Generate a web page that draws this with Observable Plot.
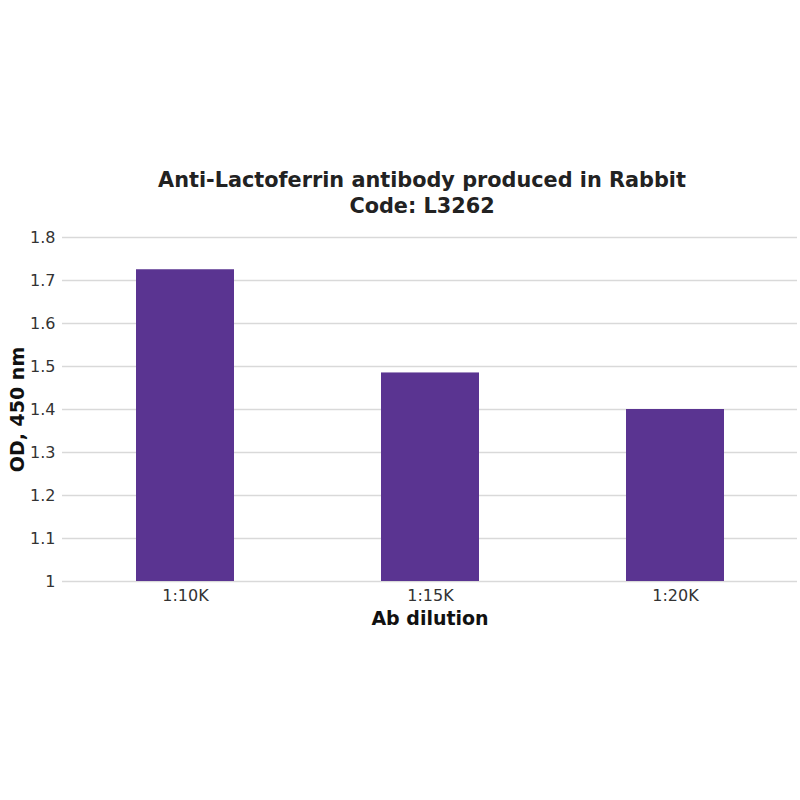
<!DOCTYPE html>
<html>
<head>
<meta charset="utf-8">
<script src="https://cdn.jsdelivr.net/npm/d3@7"></script>
<script src="https://cdn.jsdelivr.net/npm/@observablehq/plot@0.6"></script>
<style>
  body { margin: 0; background: #fff; font-family: "DejaVu Sans", Verdana, sans-serif; }
  #wrap { width: 800px; height: 800px; }
  #title { padding-top: 167px; padding-left: 44px; width: 756px; text-align: center; font-weight: bold; font-size: 20.8px; line-height: 26px; color: #222; height: 52px; }
  g[aria-label="y-axis label"] text, g[aria-label="x-axis label"] text { font-weight: bold; font-size: 19px; fill: #111; }
</style>
</head>
<body>
<div id="wrap">
  <div id="title">Anti-Lactoferrin antibody produced in Rabbit<br>Code: L3262</div>
  <div id="chart"></div>
</div>
<script>
const categories = ["1:10K", "1:15K", "1:20K"];
const values = [1.725, 1.485, 1.40];
const yTicks = [1, 1.1, 1.2, 1.3, 1.4, 1.5, 1.6, 1.7, 1.8];

const data = categories.map((c, i) => ({dilution: c, od: values[i]}));

const chart = Plot.plot({
  width: 800,
  height: 581,
  marginTop: 18,
  marginBottom: 219,
  marginLeft: 62,
  marginRight: 3,
  style: {fontFamily: "DejaVu Sans, Verdana, sans-serif", fontSize: "16px", color: "#333"},
  x: {domain: categories, paddingInner: 0.6, paddingOuter: 0.3},
  y: {domain: [1, 1.8]},
  marks: [
    Plot.ruleY(yTicks, {stroke: "#d9d9d9", strokeWidth: 1.5}),
    Plot.barY(data, {x: "dilution", y: "od", fill: "#5a3491", clip: "frame"}),
    Plot.axisY(yTicks, {tickSize: 0, tickPadding: 7, tickFormat: d3.format("~"), label: "OD, 450 nm", labelAnchor: "center", labelArrow: "none", labelOffset: 52}),
    Plot.axisX({tickSize: 0, tickPadding: 8, label: "Ab dilution", labelAnchor: "center", labelArrow: "none", labelOffset: 43})
  ]
});
document.getElementById("chart").appendChild(chart);
</script>
</body>
</html>
